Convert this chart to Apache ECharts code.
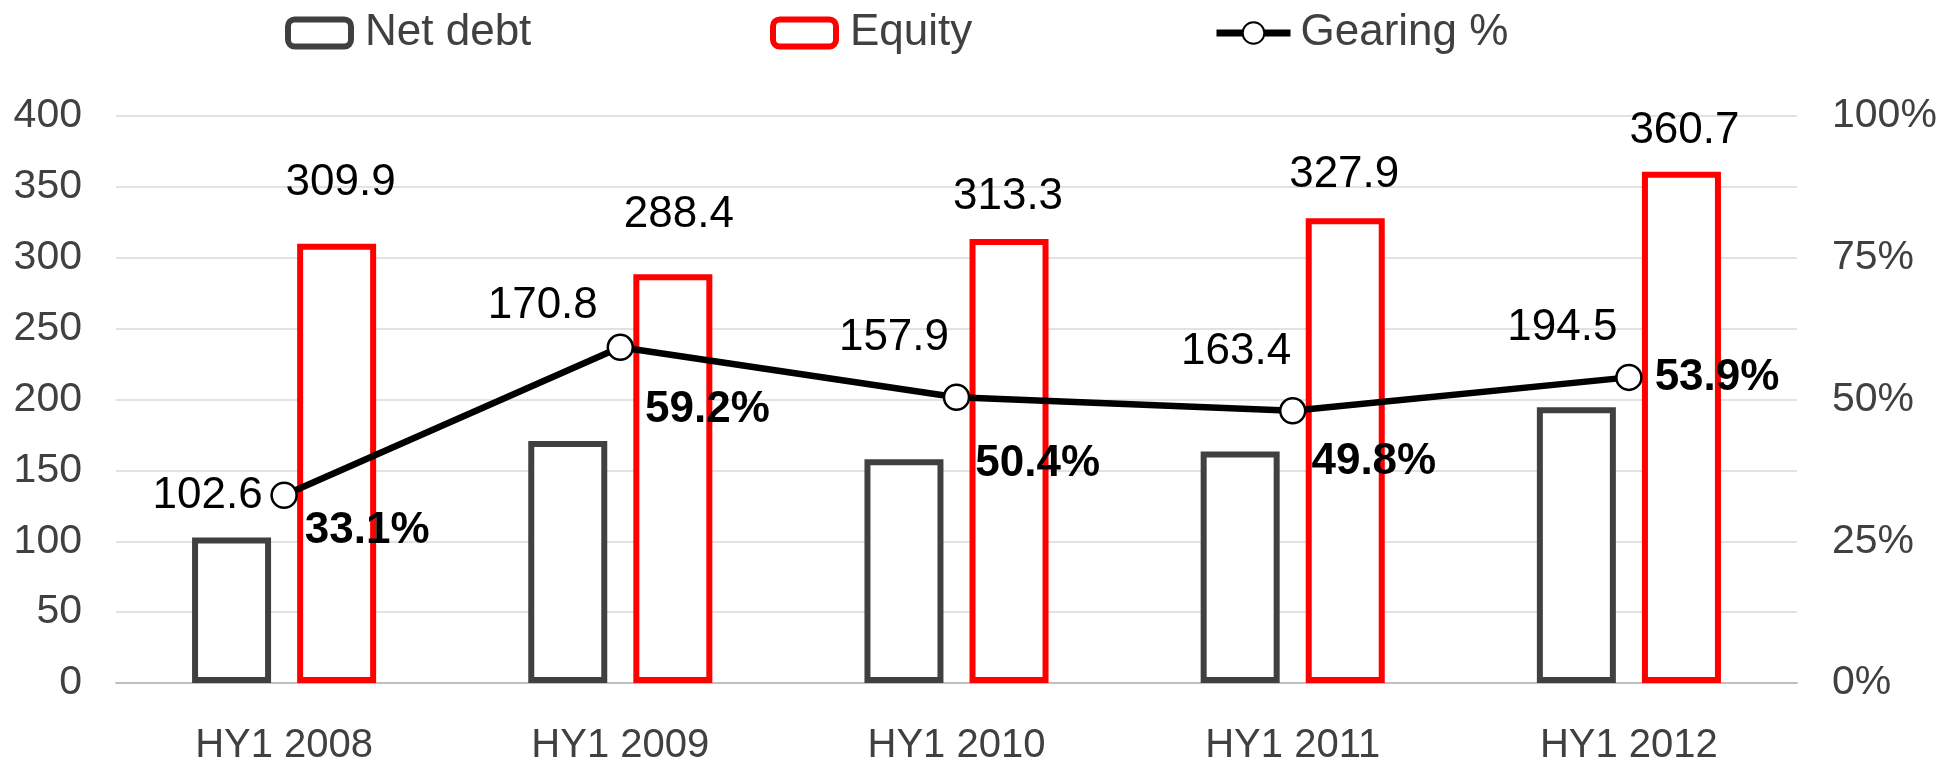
<!DOCTYPE html>
<html style="height: 100%">
	<head>
		<meta charset="utf-8">
	</head>
	<body style="height: 100%; margin: 0; background: #fff">
		<div id="container" style="width: 1959px; height: 766px"></div>

		<script type="text/javascript" src="https://cdn.jsdelivr.net/npm/echarts@6/dist/echarts.min.js"></script>
		<script type="text/javascript">
			var dom = document.getElementById("container");
			var myChart = echarts.init(dom, null, { renderer: 'canvas' });

			// data
			const categories = ['HY1 2008', 'HY1 2009', 'HY1 2010', 'HY1 2011', 'HY1 2012'];
			const netDebt = [102.6, 170.8, 157.9, 163.4, 194.5];
			const equity = [309.9, 288.4, 313.3, 327.9, 360.7];
			// gearing as plotted (the 2011 point sits lower than its label says)
			const gearing = [33.1, 59.2, 50.4, 48.0, 53.9];
			const gearingText = ['33.1%', '59.2%', '50.4%', '49.8%', '53.9%'];

			// hand placed label nudges (layout only)
			const netDebtLabelShift = [[-24, -20], [-25, -113], [-10, -99], [-4, -78], [-14, -57]];
			const equityLabelShift = [[4, -39], [6, -37], [-1, -20], [-1, -21], [3, -19]];
			const gearingLabelShift = [[7, 36], [11, 63], [5, 67], [5, 51], [12, 0]];

			const font = 'Liberation Sans, Arial, sans-serif';
			const grey = '#404040';

			function withShift(values, shifts) {
				return values.map(function (v, i) {
					return { value: v, label: { offset: shifts[i] } };
				});
			}

			const legendText = { fontFamily: font, fontSize: 44, color: grey, lineHeight: 44, padding: [0, 0, 0, 9] };

			var option = {
				animation: false,
				textStyle: { fontFamily: font },
				grid: { left: 116, right: 162, top: 116, bottom: 77 },
				legend: [
					{
						data: ['Net debt'], left: 285, top: 11, padding: 0,
						itemWidth: 63, itemHeight: 27,
						itemStyle: { borderWidth: 6 },
						textStyle: legendText
					},
					{
						data: ['Equity'], left: 770, top: 11, padding: 0,
						itemWidth: 63, itemHeight: 27,
						itemStyle: { borderWidth: 6 },
						textStyle: legendText
					},
					{
						data: ['Gearing %'], left: 1213, top: 11, padding: 0,
						itemWidth: 74, itemHeight: 27,
						lineStyle: { width: 7 },
						itemStyle: { borderWidth: 2 },
						textStyle: { fontFamily: font, fontSize: 44, color: grey, lineHeight: 44, padding: [0, 0, 0, 5] }
					}
				],
				xAxis: {
					type: 'category',
					data: categories,
					axisTick: { show: false },
					axisLine: { lineStyle: { color: '#bfbfbf', width: 2 } },
					axisLabel: { fontSize: 40, color: grey, margin: 43, fontFamily: font }
				},
				yAxis: [
					{
						type: 'value', min: 0, max: 400, interval: 50,
						axisLine: { show: false }, axisTick: { show: false },
						splitLine: { lineStyle: { color: '#d9d9d9', width: 1.5 } },
						axisLabel: { fontSize: 41, color: grey, margin: 34, fontFamily: font }
					},
					{
						type: 'value', min: 0, max: 100, interval: 25,
						axisLine: { show: false }, axisTick: { show: false },
						splitLine: { show: false },
						axisLabel: { fontSize: 41, color: grey, margin: 35, fontFamily: font, formatter: '{value}%' }
					}
				],
				series: [
					{
						name: 'Net debt',
						type: 'bar',
						barWidth: 79,
						barGap: '33%',
						itemStyle: { color: '#fff', borderColor: grey, borderWidth: 6 },
						label: {
							show: true, position: 'top', distance: 0,
							fontSize: 44, lineHeight: 44, color: '#000', fontFamily: font,
							formatter: function (p) { return p.value.toFixed(1); }
						},
						data: withShift(netDebt, netDebtLabelShift)
					},
					{
						name: 'Equity',
						type: 'bar',
						barWidth: 79,
						barGap: '33%',
						itemStyle: { color: '#fff', borderColor: '#ff0000', borderWidth: 6 },
						label: {
							show: true, position: 'top', distance: 0,
							fontSize: 44, lineHeight: 44, color: '#000', fontFamily: font,
							formatter: function (p) { return p.value.toFixed(1); }
						},
						data: withShift(equity, equityLabelShift)
					},
					{
						name: 'Gearing %',
						type: 'line',
						yAxisIndex: 1,
						z: 5,
						symbol: 'circle',
						symbolSize: 25,
						lineStyle: { color: '#000', width: 6.5 },
						itemStyle: { color: '#fff', borderColor: '#000', borderWidth: 2.5 },
						label: {
							show: true, position: 'right', distance: 0,
							fontSize: 44, lineHeight: 44, fontWeight: 'bold', color: '#000', fontFamily: font,
							formatter: function (p) { return gearingText[p.dataIndex]; }
						},
						data: withShift(gearing, gearingLabelShift)
					}
				]
			};

			if (option && typeof option === 'object') {
				myChart.setOption(option);
			}
		</script>
	</body>
</html>
